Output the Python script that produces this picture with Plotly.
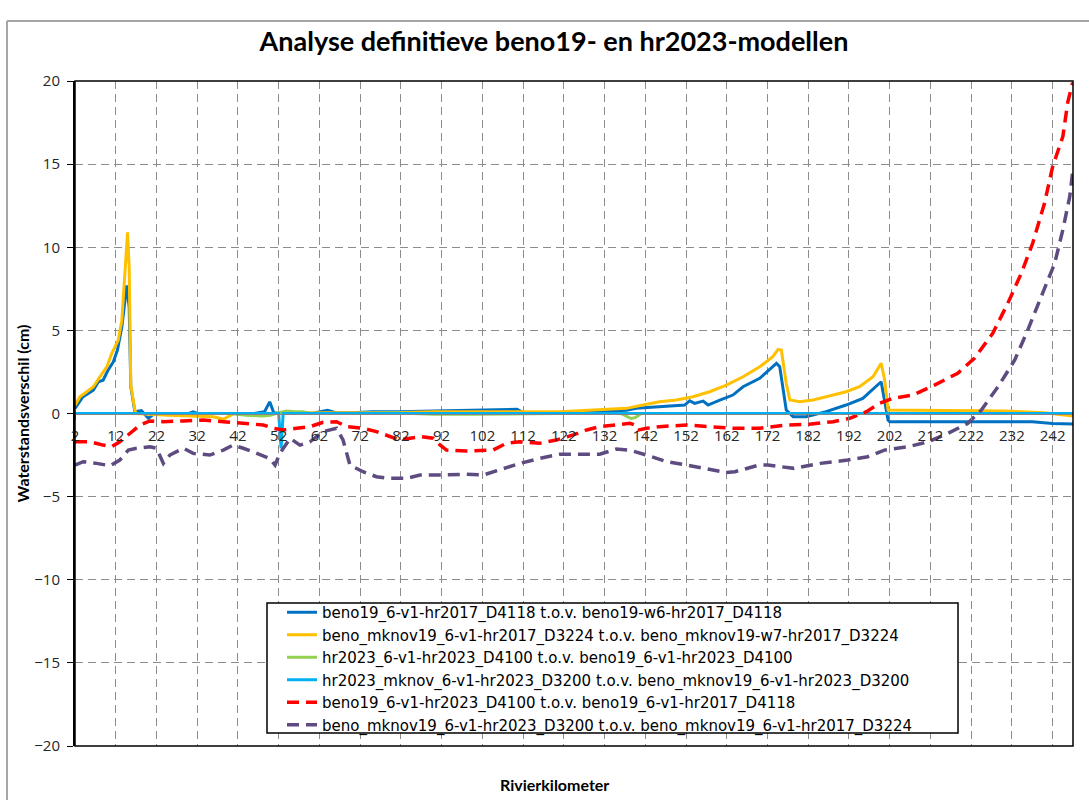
import plotly.graph_objects as go

# ---- river kilometres and water level differences (cm) per comparison ----
km_blue = [2, 3.9, 6.5, 7.7, 8.9, 10.1, 11.4, 12.4, 13.5, 14.7, 15.3, 15.7, 16.7, 18.3, 20, 21.5, 30, 31,
           32, 40, 46, 48.5, 49.8, 50.8, 52, 60, 62.5, 64, 66, 70, 75, 82, 90, 100, 110.5, 112, 120, 130,
           137.4, 139.8, 145.5, 151.7, 152.9, 154.1, 156.2, 157.4, 160.3, 163.5, 166, 170.1, 174.2, 175,
           176.6, 178.3, 181.5, 186.4, 191.3, 195.4, 199.9, 201.6, 202, 215, 230, 237, 242, 247]
val_blue = [0.3, 1.0, 1.41, 1.9, 2.0, 2.6, 3.1, 3.8, 5.2, 7.7, 6.4, 1.6, 0.1, 0.17, -0.29, 0.0, 0.0, 0.1,
            0.0, 0.0, 0.0, 0.1, 0.7, 0.05, 0.0, 0.0, 0.15, 0.2, 0.05, 0.05, 0.1, 0.1, 0.15, 0.2, 0.25, 0.05,
            0.05, 0.1, 0.2, 0.31, 0.41, 0.51, 0.77, 0.61, 0.75, 0.51, 0.81, 1.11, 1.61, 2.12, 3.02, 2.82,
            0.21, -0.19, -0.19, 0.11, 0.51, 0.91, 1.91, -0.39, -0.5, -0.5, -0.5, -0.5, -0.6, -0.63]

km_yellow = [2, 3.2, 4.9, 6.5, 8.1, 9.8, 11, 12.6, 13.5, 14.3, 14.9, 15.3, 15.7, 16.7, 17, 25, 32, 36,
             38.4, 39.5, 41, 50, 60, 70, 80, 90, 100, 110, 121, 129.2, 137.4, 141.4, 145.5, 149.6, 153.7,
             157.8, 161.9, 166, 170.1, 173.3, 174.6, 175.4, 176.6, 177.5, 179.9, 183.2, 186.4, 191.3,
             194.6, 197.9, 199.9, 200.7, 201.6, 210, 220, 230, 240, 247]
val_yellow = [0.5, 1.0, 1.31, 1.61, 2.2, 2.8, 3.6, 4.4, 5.6, 8.4, 10.9, 8.8, 1.7, 0.2, 0.0, -0.1, -0.15,
              -0.2, -0.35, -0.2, 0.0, 0.0, 0.05, 0.05, 0.05, 0.1, 0.1, 0.1, 0.11, 0.21, 0.31, 0.51, 0.71,
              0.81, 1.01, 1.31, 1.71, 2.21, 2.81, 3.42, 3.86, 3.82, 1.82, 0.81, 0.71, 0.81, 1.01, 1.31,
              1.61, 2.21, 3.02, 2.12, 0.21, 0.2, 0.2, 0.15, 0.05, -0.15]

km_green = [2, 40, 44, 48, 50, 52, 54, 56, 58, 60, 70, 80, 90, 100, 120, 136, 138.5, 139.5, 141, 160,
            200, 247]
val_green = [0, 0, -0.1, -0.15, -0.1, 0.05, 0.15, 0.1, 0.1, 0.0, 0.0, 0.05, -0.05, -0.05, 0, 0, -0.3,
             -0.25, 0, 0, 0, 0]

km_cyan = [2, 52.0, 52.6, 53.1, 247]
val_cyan = [0, 0, -2.1, 0, 0]

km_red = [2, 5.7, 8.9, 11, 13, 15.5, 18, 20.4, 23.7, 28.6, 33.5, 38.4, 43.3, 48.2, 50.7, 53.1, 56.4,
          59.7, 62.9, 66.2, 68.7, 72.7, 76, 79.3, 81.7, 86.7, 89.9, 91.6, 93.2, 98.1, 104.6, 107.9,
          111.2, 116.1, 120.2, 124.3, 127.6, 130.8, 134.9, 138.2, 139.4, 140.2, 142.3, 145.5, 152.1,
          157, 163.5, 170.1, 176.6, 182.3, 188.1, 192.2, 196.3, 199.5, 202.8, 207.7, 213, 218.7, 222.8,
          227.3, 231, 234.3, 237.1, 240, 242, 244.5, 245.7, 246.9]
val_red = [-1.7, -1.7, -1.9, -2.0, -1.7, -1.19, -0.69, -0.45, -0.49, -0.45, -0.39, -0.49, -0.59, -0.69,
           -0.89, -0.99, -0.89, -0.79, -0.53, -0.49, -0.79, -0.89, -1.09, -1.39, -1.59, -1.39, -1.49,
           -1.89, -2.2, -2.26, -2.2, -1.79, -1.7, -1.79, -1.59, -1.29, -0.99, -0.79, -0.69, -0.59, -0.69,
           -1.0, -0.89, -0.79, -0.69, -0.79, -0.89, -0.89, -0.7, -0.65, -0.49, -0.29, 0.11, 0.61, 0.91,
           1.11, 1.71, 2.42, 3.32, 4.82, 6.63, 8.43, 10.24, 12.64, 14.85, 16.65, 18.7, 19.9]

km_purple = [2, 4, 7.3, 10.6, 13, 15.1, 17.1, 20.4, 22, 23.7, 25.3, 28.6, 31, 35.1, 38.4, 40.8, 43.3,
             46.6, 49.8, 51.1, 52.3, 54.8, 57.2, 59.7, 62.9, 66.2, 67.8, 69.5, 72.7, 76, 79.3, 83.4,
             86.7, 91.6, 98.1, 102.2, 106.3, 111.2, 116.1, 121, 125.9, 130.8, 134.9, 138.2, 142.3,
             147.2, 152.1, 157, 161.9, 164, 170, 172.1, 178.5, 185, 191.7, 196.6, 200.7, 206.5, 211.4,
             216.3, 221.2, 224.5, 228.6, 232.7, 235.9, 239.2, 242.5, 244.5, 246.2, 246.9]
val_purple = [-3.1, -2.9, -3.0, -3.14, -2.8, -2.2, -2.09, -2.0, -2.09, -3.0, -2.5, -2.09, -2.4, -2.5,
              -2.2, -1.9, -2.09, -2.4, -2.7, -3.1, -2.4, -1.49, -1.9, -1.7, -1.09, -0.89, -1.59, -3.1,
              -3.5, -3.8, -3.9, -3.9, -3.7, -3.7, -3.66, -3.7, -3.4, -3.0, -2.7, -2.45, -2.45, -2.45,
              -2.14, -2.2, -2.5, -2.9, -3.1, -3.3, -3.55, -3.5, -3.1, -3.1, -3.3, -3.0, -2.8, -2.6, -2.2,
              -2.0, -1.7, -1.19, -0.59, 0.21, 1.61, 3.22, 5.02, 7.03, 9.03, 11.04, 13.04, 14.5]

series_names = [
    "beno19_6-v1-hr2017_D4118 t.o.v. beno19-w6-hr2017_D4118",
    "beno_mknov19_6-v1-hr2017_D3224 t.o.v. beno_mknov19-w7-hr2017_D3224",
    "hr2023_6-v1-hr2023_D4100 t.o.v. beno19_6-v1-hr2023_D4100",
    "hr2023_mknov_6-v1-hr2023_D3200 t.o.v. beno_mknov19_6-v1-hr2023_D3200",
    "beno19_6-v1-hr2023_D4100 t.o.v. beno19_6-v1-hr2017_D4118",
    "beno_mknov19_6-v1-hr2023_D3200 t.o.v. beno_mknov19_6-v1-hr2017_D3224",
]

x_ticks = list(range(2, 243, 10))
y_ticks = [-20, -15, -10, -5, 0, 5, 10, 15, 20]

BOLD_FONT = "Lato, sans-serif"
TEXT_FONT = "Open Sans, sans-serif"
LEGEND_FONT = "DejaVu Sans, sans-serif"

# ---- page geometry (pixels) ----
W, H = 1089, 800
L, R, T, B = 75, 16, 81, 54
PW, PH = W - L - R, H - T - B


def px_x(px):
    return (px - L) / PW


def px_y(py):
    return (H - B - py) / PH


fig = go.Figure()

solid = [
    (km_blue, val_blue, "#0070C0"),
    (km_yellow, val_yellow, "#FFC000"),
    (km_green, val_green, "#92D050"),
    (km_cyan, val_cyan, "#00B0F0"),
]
for (xs, ys, col), name in zip(solid, series_names[:4]):
    fig.add_trace(go.Scatter(x=xs, y=ys, mode="lines", name=name,
                             line=dict(color=col, width=3)))

dashed = [
    (km_red, val_red, "#FF0000"),
    (km_purple, val_purple, "#5E4B80"),
]
for (xs, ys, col), name in zip(dashed, series_names[4:]):
    fig.add_trace(go.Scatter(x=xs, y=ys, mode="lines", name=name,
                             line=dict(color=col, width=3.5, dash="12px,7px")))

grid_col = "#8C8C8C"

fig.update_layout(
    width=W, height=H,
    margin=dict(l=L, r=R, t=T, b=B, pad=0),
    paper_bgcolor="white", plot_bgcolor="white",
    font=dict(family=TEXT_FONT, size=15, color="#262626"),
    title=dict(text="<b>Analyse definitieve beno19- en hr2023-modellen</b>",
               font=dict(family=BOLD_FONT, size=27, color="black"),
               x=554 / W, xanchor="center", xref="container",
               y=1 - 42 / H, yanchor="middle", yref="container"),
    xaxis=dict(range=[2, 247], tickvals=x_ticks, ticktext=[str(v) for v in x_ticks],
               anchor="free", position=0.5,
               showline=True, linecolor="#868686", linewidth=1,
               ticks="outside", ticklen=5, tickcolor="#868686", ticklabelstandoff=3,
               showgrid=True, gridcolor=grid_col, gridwidth=1, griddash="8px,5px",
               zeroline=False, tickfont=dict(family=TEXT_FONT, size=15, color="#262626")),
    yaxis=dict(range=[-20, 20], tickvals=y_ticks, ticks="outside", ticklen=6,
               tickcolor="black", showline=True, linecolor="black", linewidth=2,
               showgrid=True, gridcolor=grid_col, gridwidth=1, griddash="8px,5px",
               zeroline=False, tickfont=dict(family=TEXT_FONT, size=15, color="#262626"),
               ticklabelstandoff=4,
               title=dict(text="<b>Waterstandsverschil (cm)</b>", standoff=1,
                          font=dict(family=BOLD_FONT, size=16, color="black"))),
    showlegend=True,
    legend=dict(x=px_x(282), y=px_y(596), xanchor="left", yanchor="top",
                orientation="h", entrywidth=630, entrywidthmode="pixels",
                bgcolor="rgba(0,0,0,0)", borderwidth=0,
                font=dict(family=LEGEND_FONT, size=15, color="black"),
                tracegroupgap=0, itemwidth=30),
)

# legend frame, drawn beneath the legend entries
fig.add_shape(type="rect", xref="paper", yref="paper",
              x0=px_x(267), x1=px_x(958), y0=px_y(733), y1=px_y(603),
              fillcolor="white", line=dict(color="black", width=1.5), layer="above")

# x axis title below the plot area
fig.add_annotation(text="<b>Rivierkilometer</b>", xref="paper", yref="paper",
                   x=px_x(554), y=px_y(785), xanchor="center", yanchor="middle",
                   showarrow=False, font=dict(family=BOLD_FONT, size=16, color="black"))

# plot area frame
fig.add_shape(type="rect", xref="paper", yref="paper", x0=0, x1=1, y0=0, y1=1,
              line=dict(color="black", width=1.5), layer="above")

# outer chart border (top and left edges)
fig.add_shape(type="line", xref="paper", yref="paper", x0=px_x(7), x1=px_x(1095),
              y0=px_y(21), y1=px_y(21), line=dict(color="#A6A6A6", width=2))
fig.add_shape(type="line", xref="paper", yref="paper", x0=px_x(7), x1=px_x(7),
              y0=px_y(21), y1=px_y(810), line=dict(color="#A6A6A6", width=2))

fig.write_html("out.html")
